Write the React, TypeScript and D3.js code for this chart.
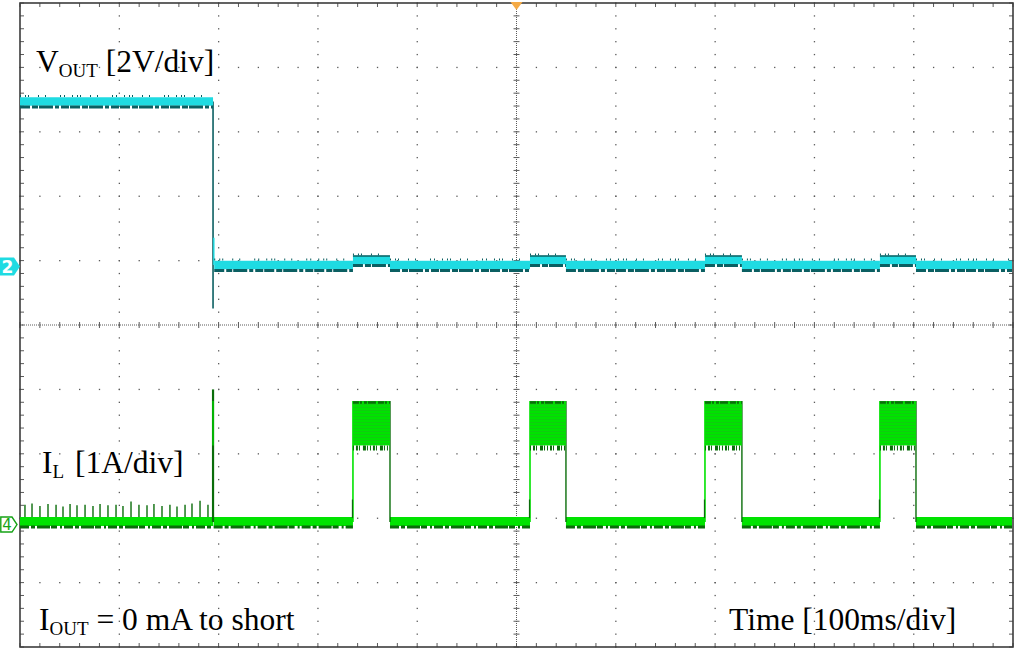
import React from 'react';
import * as d3 from 'd3';

// screen geometry of the scope graticule
const W = 1016;
const H = 650;
const L = 20;
const R = 1013;
const T = 3;
const B = 647;

// 10 horizontal divisions x 100 ms, 10 vertical divisions
const timeDomain = [0, 1000];
const divDomain = [-5, 5];

// channel setup: ground position (div) and units per div
const ch2Position = 0.93;
const ch2Scale = 2; // V/div
const ch4Position = -3.06;
const ch4Scale = 1; // A/div

// VOUT (CH2): [start ms, end ms, level V]
const voutSteps: [number, number, number][] = [
  [0, 194.4, 5.08],
  [195.6, 335.3, 0],
  [335.3, 372.6, 0.16],
  [372.6, 513.6, 0],
  [513.6, 549.8, 0.16],
  [549.8, 689.8, 0],
  [689.8, 727, 0.16],
  [727, 866, 0],
  [866, 902.3, 0.16],
  [902.3, 999, 0],
];
const shortTime = 194.4;
const voutDip = -1.35;
const voutGlitch = 0.85;

// IL (CH4): baseline segments [start ms, end ms, level A]
const ilSteps: [number, number, number][] = [
  [0, 194.4, 0],
  [195, 335.3, 0],
  [372.6, 513.6, 0],
  [549.8, 689.8, 0],
  [727, 866, 0],
  [902.3, 999, 0],
];
// hiccup pulses [start ms, end ms]
const ilPulses: [number, number][] = [
  [335.3, 372.6],
  [513.6, 549.8],
  [689.8, 727],
  [866, 902.3],
];
const ilPulseHigh = 1.88;
const ilPulseLow = 1.19;
const ilShortPeak = 2.06;
// pulse-skip spikes before the short
const ilSkipTimes = [5, 12.1, 20.1, 28.2, 36.3, 43.3, 50.4, 57.4, 65.5, 73.5, 80.6, 88.6, 96.7, 103.7, 111.8, 119.8, 127.9, 134.9, 143, 151, 158.1, 166.2, 173.2, 181.3, 189.3];
const ilSkipPeaks = [0.27, 0.29, 0.25, 0.28, 0.27, 0.24, 0.28, 0.26, 0.27, 0.25, 0.28, 0.26, 0.27, 0.25, 0.32, 0.27, 0.26, 0.28, 0.25, 0.27, 0.24, 0.27, 0.29, 0.33, 0.27];

const CYAN = '#1fdbe2';
const TEAL = '#0b5f62';
const GREEN = '#00e300';
const DGREEN = '#0a6d0a';
const GRID = '#5a5a5a';
const SERIF = '"Liberation Serif", "Times New Roman", serif';

const App = () => {
  const x = d3.scaleLinear().domain(timeDomain).range([L, R]);
  const xd = d3.scaleLinear().domain(divDomain).range([L, R]);
  const yd = d3.scaleLinear().domain(divDomain).range([B, T]);
  const yV = (v: number) => yd(ch2Position + v / ch2Scale);
  const yI = (a: number) => yd(ch4Position + a / ch4Scale);
  const hline = d3.line<[number, number]>().x((d) => d[0]).y((d) => d[1]);
  const seg = (t0: number, t1: number, y: number) => hline([[x(t0), y], [x(t1), y]]) || '';

  const majors = d3.range(-4, 5, 1).filter((d) => d !== 0);
  const minors = d3.range(-5, 5.001, 0.2).map((d) => +d.toFixed(1));

  // dotted graticule
  const dots: JSX.Element[] = [];
  majors.forEach((gx) => {
    minors.forEach((m) => {
      dots.push(<rect key={`v${gx}_${m}`} x={xd(gx) - 0.6} y={yd(m) - 0.6} width={1.3} height={1.3} fill={GRID} />);
    });
  });
  majors.forEach((gy) => {
    minors.forEach((m) => {
      dots.push(<rect key={`h${gy}_${m}`} x={xd(m) - 0.6} y={yd(gy) - 0.6} width={1.3} height={1.3} fill={GRID} />);
    });
  });

  const cx = xd(0);
  const cy = yd(0);

  return (
    <svg width={W} height={H} style={{ position: 'absolute', left: 0, top: 0, background: '#fff' }}>
      <defs>
        <pattern id="ilStripe" width={6} height={3} patternUnits="userSpaceOnUse">
          <rect width={6} height={3} fill={GREEN} />
          <rect y={2} width={6} height={1} fill="#10cc10" />
        </pattern>
      </defs>
      <rect width={W} height={H} fill="#fff" />

      {/* graticule */}
      <g>{dots}</g>
      <g stroke={GRID} strokeWidth={1}>
        <line x1={L} x2={R} y1={cy} y2={cy} strokeDasharray="1 1" />
        <line x1={cx} x2={cx} y1={T} y2={B} strokeDasharray="1 1" />
        {minors.map((m) => (
          <g key={`c${m}`}>
            <line x1={xd(m)} x2={xd(m)} y1={cy - 3} y2={cy + 3} />
            <line x1={cx - 3} x2={cx + 3} y1={yd(m)} y2={yd(m)} />
          </g>
        ))}
        {minors.map((m) => (
          <g key={`b${m}`}>
            <line x1={xd(m)} x2={xd(m)} y1={T} y2={T + 4} />
            <line x1={xd(m)} x2={xd(m)} y1={B} y2={B - 4} />
            <line x1={L} x2={L + 4} y1={yd(m)} y2={yd(m)} />
            <line x1={R} x2={R - 4} y1={yd(m)} y2={yd(m)} />
          </g>
        ))}
      </g>
      <rect x={L} y={T} width={R - L} height={B - T} fill="none" stroke="#3c3c3c" strokeWidth={1.6} />

      {/* IL trace (CH4) */}
      <g>
        {ilSkipTimes.map((t, i) => (
          <line key={`sk${i}`} x1={x(t)} x2={x(t)} y1={yI(0) - 3} y2={yI(ilSkipPeaks[i])} stroke={DGREEN} strokeWidth={1.4} />
        ))}
        {ilSteps.map(([t0, t1, a], i) => (
          <g key={`il${i}`}>
            <path d={seg(t0, t1, yI(a) - 0.5)} stroke={GREEN} strokeWidth={9} fill="none" />
            <path d={seg(t0, t1, yI(a) + 5)} stroke={DGREEN} strokeWidth={3} strokeDasharray="9 2 4 2 13 1 6 3 2 2" fill="none" />
          </g>
        ))}
        {ilPulses.map(([p0, p1], i) => (
          <g key={`ip${i}`}>
            <line x1={x(p0)} x2={x(p0)} y1={yI(0)} y2={yI(ilPulseHigh)} stroke={GREEN} strokeWidth={1.6} />
            <line x1={x(p0) - 0.5} x2={x(p0) - 0.5} y1={yI(0) - 4} y2={yI(0.35)} stroke={DGREEN} strokeWidth={1.2} />
            <line x1={x(p1)} x2={x(p1)} y1={yI(ilPulseHigh)} y2={yI(0)} stroke={DGREEN} strokeWidth={1.4} />
            <rect x={x(p0)} y={yI(ilPulseHigh)} width={x(p1) - x(p0)} height={yI(ilPulseLow) - yI(ilPulseHigh)} fill="url(#ilStripe)" />
            <path d={seg(p0, p1, yI(ilPulseHigh) + 1.5)} stroke={DGREEN} strokeWidth={2.5} strokeDasharray="6 1 2 2 3 1 8 2" fill="none" />
            <path d={seg(p0, p1, yI(ilPulseLow) + 2.5)} stroke={DGREEN} strokeWidth={5} strokeDasharray="1 2 2 1 1 3 3 1 1 2" fill="none" />
          </g>
        ))}
        <line x1={x(shortTime)} x2={x(shortTime)} y1={yI(0)} y2={yI(ilShortPeak)} stroke={DGREEN} strokeWidth={2.2} />
        <line x1={x(shortTime)} x2={x(shortTime)} y1={yI(ilPulseLow)} y2={yI(ilPulseHigh)} stroke={GREEN} strokeWidth={1.2} />
      </g>

      {/* VOUT trace (CH2) */}
      <g>
        <line x1={x(shortTime)} x2={x(shortTime)} y1={yV(voutSteps[0][2])} y2={yV(voutDip)} stroke={TEAL} strokeWidth={1.6} />
        <line x1={x(shortTime) + 0.8} x2={x(shortTime) + 0.8} y1={yV(voutGlitch)} y2={yV(0)} stroke={CYAN} strokeWidth={1.4} />
        {voutSteps.map(([t0, t1, v], i) => (
          <g key={`vo${i}`}>
            <path d={seg(t0, t1, yV(v) - 5.5)} stroke={TEAL} strokeWidth={2} strokeDasharray="1 4 1 2 1 9 1 6 1 14 1 3 1 7" fill="none" />
            <path d={seg(t0, t1, yV(v))} stroke={CYAN} strokeWidth={8.5} fill="none" />
            <path d={seg(t0, t1, yV(v) + 5.5)} stroke={TEAL} strokeWidth={3} strokeDasharray="10 2 6 1 14 2 4 2 8 1" fill="none" />
            {v > 0 && v < 1 && <path d={seg(t0, t1, yV(v) - 4)} stroke={TEAL} strokeWidth={1.4} fill="none" />}
          </g>
        ))}
      </g>

      {/* labels */}
      <g fontFamily={SERIF} fill="#000" fontSize={31.5}>
        <text x={36} y={72}>
          V<tspan fontSize={19} dy={5}>OUT</tspan>
          <tspan dy={-5}> [2V/div]</tspan>
        </text>
        <text x={42} y={473}>
          I<tspan fontSize={19} dy={5}>L</tspan>
          <tspan dy={-5} dx={3}> [1A/div]</tspan>
        </text>
        <text x={39} y={630}>
          I<tspan fontSize={19} dy={5}>OUT</tspan>
          <tspan dy={-5}> = 0 mA to short</tspan>
        </text>
        <text x={729} y={630}>Time [100ms/div]</text>
      </g>

      {/* channel markers */}
      <g transform={`translate(0,${yV(0) + 1.5})`}>
        <path d="M0,-9H14L20,0L14,9H0Z" fill={CYAN} />
        <text x={7.5} y={6} fontSize={17} fontWeight="bold" fontFamily="DejaVu Sans, sans-serif" fill="#fff" textAnchor="middle">2</text>
      </g>
      <g transform={`translate(0,${yI(0) + 2.5})`}>
        <path d="M0.8,-7.5H12L17,0L12,7.5H0.8Z" fill="#fff" stroke="#16a316" strokeWidth={1.4} />
        <text x={7} y={5.5} fontSize={15} fontFamily="DejaVu Sans, sans-serif" fill="#16a316" textAnchor="middle">4</text>
      </g>

      {/* trigger position */}
      <path d={`M${cx - 6},${T - 1}L${cx + 6},${T - 1}L${cx},${T + 7}Z`} fill="#f5aa45" />
    </svg>
  );
};

export default App;
